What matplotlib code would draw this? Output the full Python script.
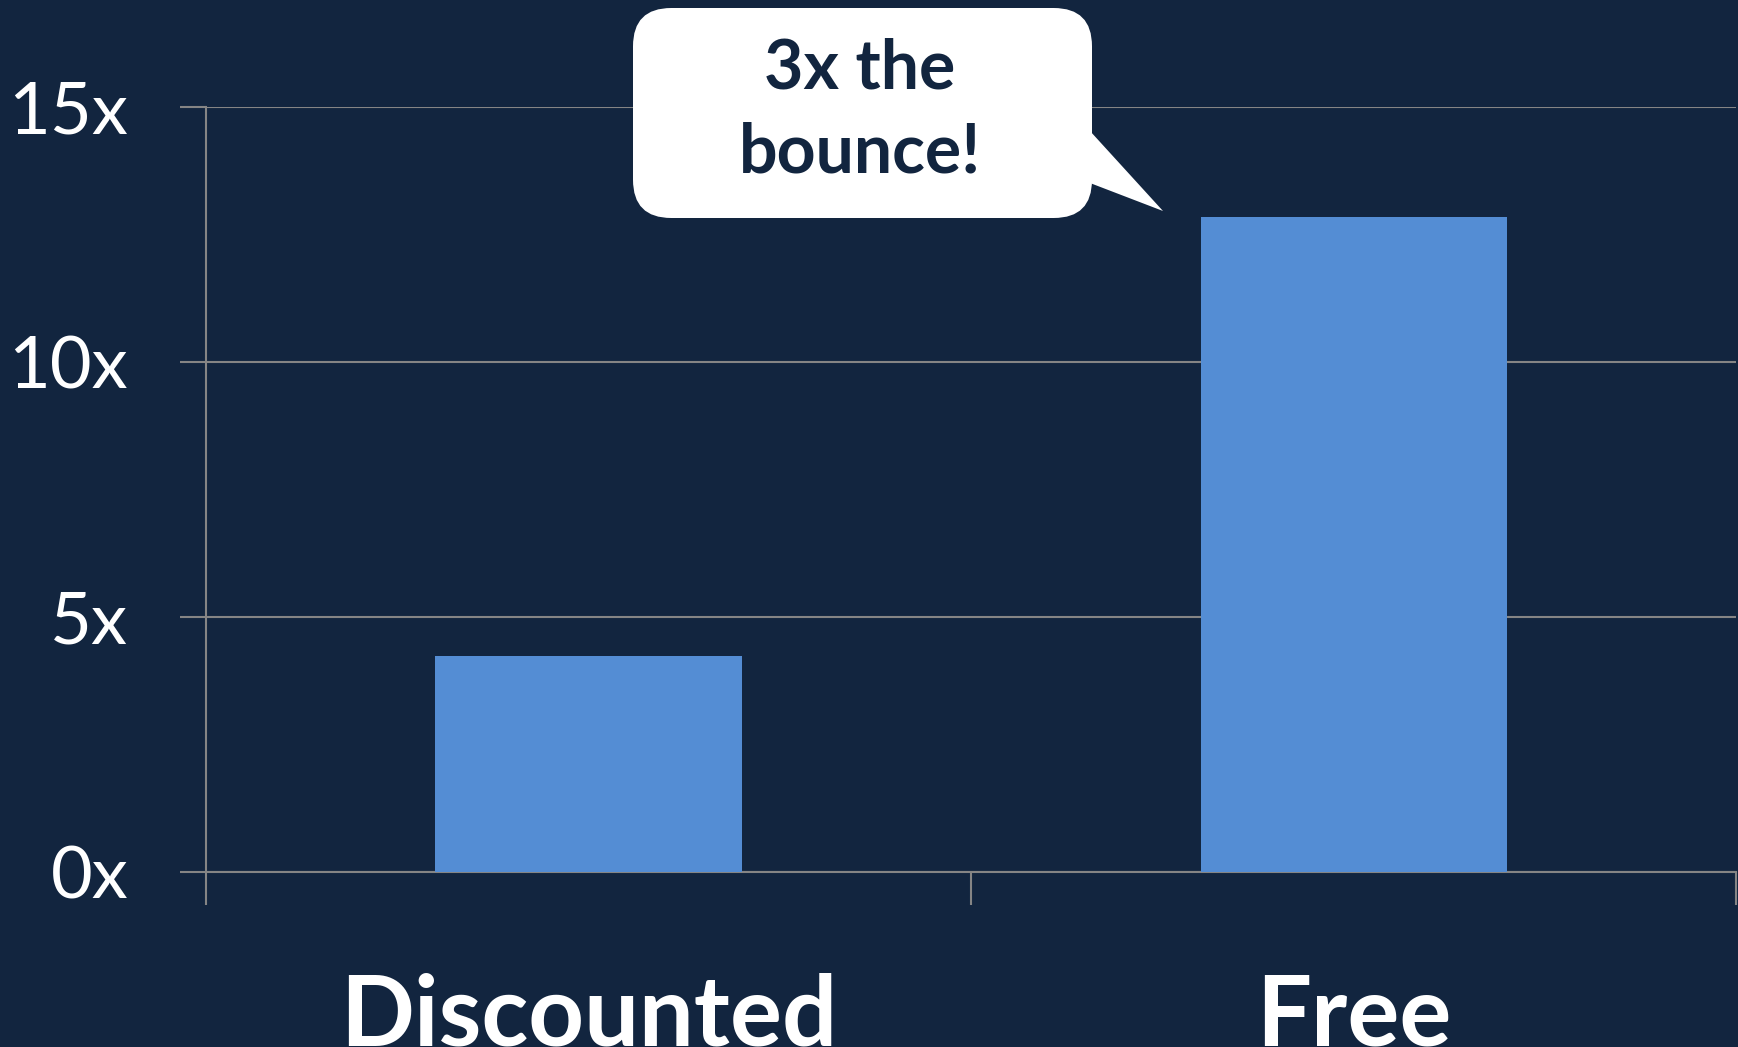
import matplotlib.pyplot as plt
from matplotlib.patches import FancyBboxPatch, Polygon

categories = ['Discounted', 'Free']
values = [4.24, 12.84]
yticks = [0, 5, 10, 15]
ytick_labels = ['0x', '5x', '10x', '15x']
callout_text = '3x the\nbounce!'

bg = '#12253F'
bar_color = '#548DD4'
grid_color = '#858585'

plt.rcParams['font.family'] = ['Lato', 'DejaVu Sans']

fig = plt.figure(figsize=(17.38, 10.47), dpi=100, facecolor=bg)
ax = fig.add_axes([0.1185, 0.1671, 0.8805, 0.7307], facecolor=bg)

x = range(len(categories))
ax.bar(x, values, width=0.40, color=bar_color, zorder=3)

ax.set_xlim(-0.5, 1.5)
ax.set_ylim(0, 15)

ax.set_yticks(yticks)
ax.set_yticklabels(ytick_labels)
ax.yaxis.grid(True, color=grid_color, linewidth=1.5, zorder=0)
ax.tick_params(axis='y', colors=grid_color, labelcolor='white', labelsize=52,
               length=19, width=1.5, pad=37)

# category boundaries carry the tick marks, centers carry the labels
ax.set_xticks([-0.5, 0.5, 1.5])
ax.set_xticklabels(['', '', ''])
ax.tick_params(axis='x', which='major', colors=grid_color, length=24, width=1.5)
ax.set_xticks(list(x), minor=True)
ax.set_xticklabels(categories, minor=True, fontweight='bold')
ax.tick_params(axis='x', which='minor', length=0, labelcolor='white',
               labelsize=70, pad=72)

for side in ['top', 'right']:
    ax.spines[side].set_visible(False)
for side in ['left', 'bottom']:
    ax.spines[side].set_color(grid_color)
    ax.spines[side].set_linewidth(1.5)

# speech bubble, in figure pixels
W, H = 1738, 1047
box = FancyBboxPatch((633 / W, (H - 218) / H), (1092 - 633) / W, (218 - 8) / H,
                     boxstyle='round,pad=0,rounding_size=0.022',
                     transform=fig.transFigure, facecolor='white',
                     edgecolor='none', mutation_aspect=W / H, zorder=10)
fig.patches.append(box)
tail = Polygon([(1090 / W, (H - 131) / H), (1163 / W, (H - 211) / H),
                (1090 / W, (H - 183) / H)], closed=True,
               transform=fig.transFigure, facecolor='white', edgecolor='none',
               zorder=10)
fig.patches.append(tail)
fig.text(860 / W, (H - 111) / H, callout_text, ha='center', va='center',
         fontsize=49, fontweight='bold', color=bg, linespacing=1.4, zorder=11)

fig.savefig('out.png', dpi=100, facecolor=bg)
